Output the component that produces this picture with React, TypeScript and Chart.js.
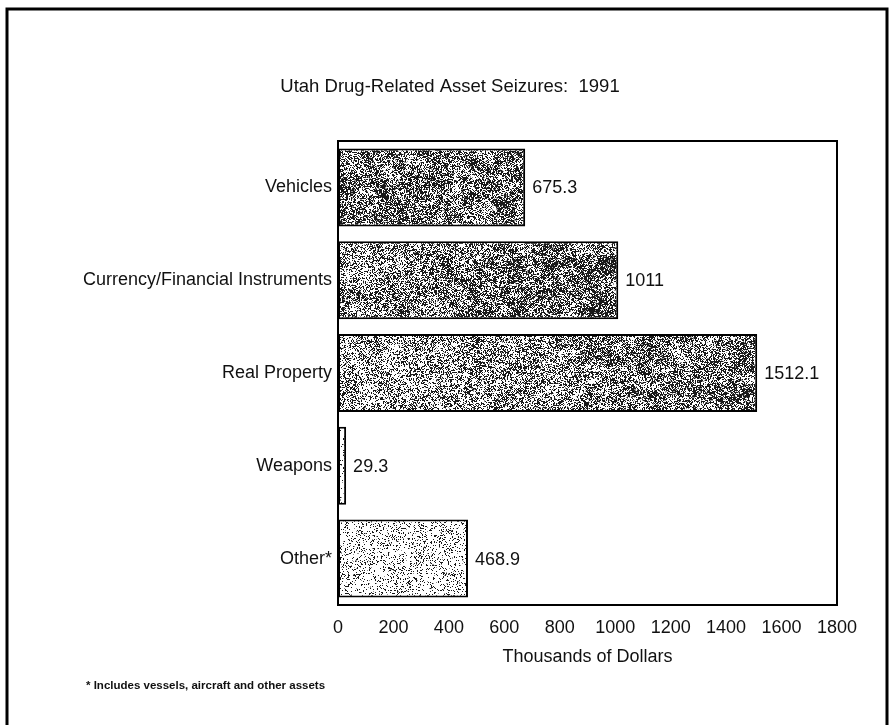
import React, { useEffect, useRef } from "react";
import { Chart, registerables } from "chart.js";

Chart.register(...registerables);

// ---- data ----
const categories = ["Vehicles", "Currency/Financial Instruments", "Real Property", "Weapons", "Other*"];
const values = [675.3, 1011, 1512.1, 29.3, 468.9];
const valueLabels = ["675.3", "1011", "1512.1", "29.3", "468.9"];
const xTickValues = [0, 200, 400, 600, 800, 1000, 1200, 1400, 1600, 1800];
const chartTitle = "Utah Drug-Related Asset Seizures:  1991";
const axisTitle = "Thousands of Dollars";
const footnote = "* Includes vessels, aircraft and other assets";

// texture darkness (style only) at left / right end of each bar
const shadeLeft = [0.5, 0.4, 0.3, 0.08, 0.16];
const shadeRight = [0.5, 0.72, 0.6, 0.08, 0.16];

const FONT = "'Liberation Sans', Arial, Helvetica, sans-serif";

function hash(x: number, y: number, s: number) {
  let h = (x * 374761393 + y * 668265263 + s * 982451653) | 0;
  h = Math.imul(h ^ (h >>> 13), 1274126177);
  h = h ^ (h >>> 16);
  return (h >>> 0) / 4294967296;
}

function smoothNoise(x: number, y: number, cell: number, s: number) {
  const gx = x / cell, gy = y / cell;
  const x0 = Math.floor(gx), y0 = Math.floor(gy);
  const fx = gx - x0, fy = gy - y0;
  const a = hash(x0, y0, s), b = hash(x0 + 1, y0, s);
  const c = hash(x0, y0 + 1, s), d = hash(x0 + 1, y0 + 1, s);
  const top = a + (b - a) * fx;
  const bot = c + (d - c) * fx;
  return top + (bot - top) * fy;
}

function makeTexture(idx: number): CanvasPattern | string {
  const w = 900, h = 128;
  const c = document.createElement("canvas");
  c.width = w;
  c.height = h;
  const ctx = c.getContext("2d");
  if (!ctx) return "#888";
  const img = ctx.createImageData(w, h);
  for (let y = 0; y < h; y++) {
    for (let x = 0; x < w; x++) {
      const t = Math.min(1, Math.max(0, (x - 338) / 500));
      const base = shadeLeft[idx] + (shadeRight[idx] - shadeLeft[idx]) * t;
      const blot = smoothNoise(x, y, 8, idx + 31) * 0.6 + smoothNoise(x, y, 3, idx + 77) * 0.4;
      const p = base * (0.3 + 1.4 * blot);
      const r = hash(x, y, idx + 3);
      let v = 255;
      if (r < p) v = 25;
      else if (r < p * 1.15) v = 150;
      const k = (y * w + x) * 4;
      img.data[k] = v;
      img.data[k + 1] = v;
      img.data[k + 2] = v;
      img.data[k + 3] = 255;
    }
  }
  ctx.putImageData(img, 0, 0);
  const pat = ctx.createPattern(c, "repeat");
  return pat || "#888";
}

const decorPlugin = {
  id: "decor",
  afterDraw(chart: any) {
    const { ctx, chartArea } = chart;
    const { left, right, top, bottom } = chartArea;
    ctx.save();
    // outer frame
    ctx.strokeStyle = "#000";
    ctx.lineWidth = 3;
    ctx.beginPath();
    ctx.moveTo(7, 730);
    ctx.lineTo(7, 9);
    ctx.lineTo(887, 9);
    ctx.lineTo(887, 730);
    ctx.stroke();
    // plot box
    ctx.lineWidth = 2;
    ctx.beginPath();
    ctx.rect(left, top, right - left, bottom - top);
    ctx.stroke();
    // title
    ctx.fillStyle = "#111";
    ctx.font = `18.5px ${FONT}`;
    ctx.textAlign = "center";
    ctx.textBaseline = "middle";
    ctx.fillText(chartTitle, 450, 87);
    // value labels
    const meta = chart.getDatasetMeta(0);
    ctx.font = `18px ${FONT}`;
    ctx.textAlign = "left";
    meta.data.forEach((bar: any, i: number) => {
      ctx.fillText(valueLabels[i], bar.x + 7, bar.y + 1);
    });
    // footnote
    ctx.font = `bold 11.5px ${FONT}`;
    ctx.textAlign = "left";
    ctx.fillText(footnote, 86, 686);
    ctx.restore();
  },
};

export default function App() {
  const ref = useRef<HTMLCanvasElement | null>(null);
  useEffect(() => {
    if (!ref.current) return;
    const textures = categories.map((_, i) => makeTexture(i));
    const chart = new Chart(ref.current, {
      type: "bar",
      data: {
        labels: categories,
        datasets: [
          {
            data: values,
            backgroundColor: textures as any,
            borderColor: "#000",
            borderWidth: 2,
            borderSkipped: false,
            categoryPercentage: 0.84,
            barPercentage: 1,
          },
        ],
      },
      options: {
        indexAxis: "y",
        animation: false,
        responsive: false,
        maintainAspectRatio: false,
        layout: { padding: { top: 141, right: 56, left: 0, bottom: 0 } },
        plugins: {
          legend: { display: false },
          title: { display: false },
          tooltip: { enabled: false },
        },
        scales: {
          x: {
            type: "linear",
            min: 0,
            max: 1800,
            afterBuildTicks: (scale: any) => {
              scale.ticks = xTickValues.map((v) => ({ value: v }));
            },
            afterFit: (scale: any) => {
              scale.height = 120;
            },
            grid: { display: false, drawTicks: false },
            border: { display: true, color: "#000", width: 2 },
            ticks: {
              color: "#111",
              padding: 12,
              font: { family: FONT, size: 18 },
              maxRotation: 0,
              autoSkip: false,
              callback: (v: any) => String(v),
            },
            title: {
              display: true,
              text: axisTitle,
              color: "#111",
              font: { family: FONT, size: 18 },
              padding: { top: 0, bottom: 57 },
            },
          },
          y: {
            type: "category",
            afterFit: (scale: any) => {
              scale.width = 338;
            },
            grid: { display: false, drawTicks: false },
            border: { display: true, color: "#000", width: 2 },
            ticks: {
              color: "#111",
              padding: 6,
              font: { family: FONT, size: 18 },
              autoSkip: false,
            },
          },
        },
      },
      plugins: [decorPlugin],
    });
    return () => chart.destroy();
  }, []);
  return (
    <div style={{ position: "fixed", left: 0, top: 0, width: 893, height: 725, background: "#fff" }}>
      <canvas ref={ref} width={893} height={725} style={{ display: "block", width: 893, height: 725 }} />
    </div>
  );
}
